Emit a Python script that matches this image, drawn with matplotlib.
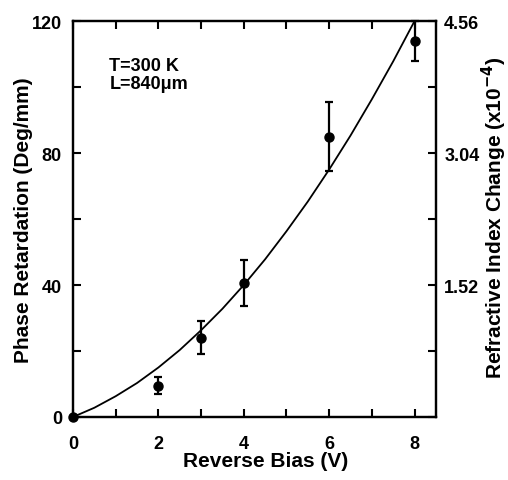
#!/usr/bin/env python3
"""Phase retardation vs reverse bias, with refractive index scale on the right."""
import matplotlib
matplotlib.use("Agg")
import matplotlib.pyplot as plt
from matplotlib.ticker import MultipleLocator, FixedLocator, NullFormatter

bias = [0, 2, 3, 4, 6, 8]
retard = [0, 9.5, 24, 40.5, 85, 114]
retard_err = [0, 2.5, 5, 7, 10.5, 6]

fit_bias = [0, 0.5, 1, 1.5, 2, 2.5, 3, 3.5, 4, 4.5, 5, 5.5, 6, 6.5, 7, 7.5, 8]
fit_retard = [0, 2.8, 6.3, 10.3, 15, 20.3, 26.3, 32.8, 40, 47.8, 56.3, 65.3,
              75, 85.3, 96.3, 107.8, 120]

left_labels = ["0", "40", "80", "120"]
right_ticks = [1.52, 3.04, 4.56]
right_labels = ["1.52", "3.04", "4.56"]

plt.rcParams["font.family"] = ["Liberation Sans", "DejaVu Sans"]
plt.rcParams["font.weight"] = "bold"
plt.rcParams["mathtext.default"] = "bf"

fig = plt.figure(figsize=(5.08, 4.81), dpi=100)
ax = fig.add_axes([0.1437, 0.131, 0.7143, 0.823])

ax.plot(fit_bias, fit_retard, color="black", lw=1.3)
ax.errorbar(bias, retard, yerr=retard_err, fmt="o", color="black", ms=6.5,
            elinewidth=1.6, capsize=3, capthick=1.6, clip_on=False, zorder=5)

ax.set_xlim(0, 8.5)
ax.set_ylim(0, 120)
ax.xaxis.set_major_locator(FixedLocator([0, 2, 4, 6, 8]))
ax.xaxis.set_minor_locator(MultipleLocator(1))
ax.yaxis.set_major_locator(FixedLocator([0, 40, 80, 120]))
ax.set_yticklabels(left_labels)
ax.yaxis.set_minor_locator(MultipleLocator(20))
ax.tick_params(which="both", direction="in", length=6, width=1.5,
               top=True, labelsize=13)
ax.tick_params(axis="x", pad=13)
ax.tick_params(axis="y", which="both", right=False, pad=8)
for sp in ax.spines.values():
    sp.set_linewidth(1.6)

ax.set_xlabel("Reverse Bias (V)", fontsize=15, fontweight="bold")
ax.xaxis.set_label_coords(0.532, -0.086)
ax.set_ylabel("Phase Retardation (Deg/mm)", fontsize=15, fontweight="bold")
ax.yaxis.set_label_coords(-0.11, 0.5)

ax2 = ax.twinx()
ax2.set_ylim(0, 4.56)
ax2.yaxis.set_major_locator(FixedLocator(right_ticks))
ax2.set_yticklabels(right_labels)
ax2.yaxis.set_minor_locator(MultipleLocator(0.76))
ax2.yaxis.set_minor_formatter(NullFormatter())
ax2.tick_params(which="both", direction="in", length=6, width=1.5,
                labelsize=13, pad=6)
ax2.set_ylabel("Refractive Index Change (x10$^{-4}$)", fontsize=15,
               fontweight="bold")
ax2.yaxis.set_label_coords(1.121, 0.505)
for sp in ax2.spines.values():
    sp.set_linewidth(1.6)

ax.text(0.85, 109, "T=300 K\nL=840\u03bcm", fontsize=13, fontweight="bold",
        va="top", linespacing=1.05)

fig.savefig("out.png", dpi=100, facecolor="white")
